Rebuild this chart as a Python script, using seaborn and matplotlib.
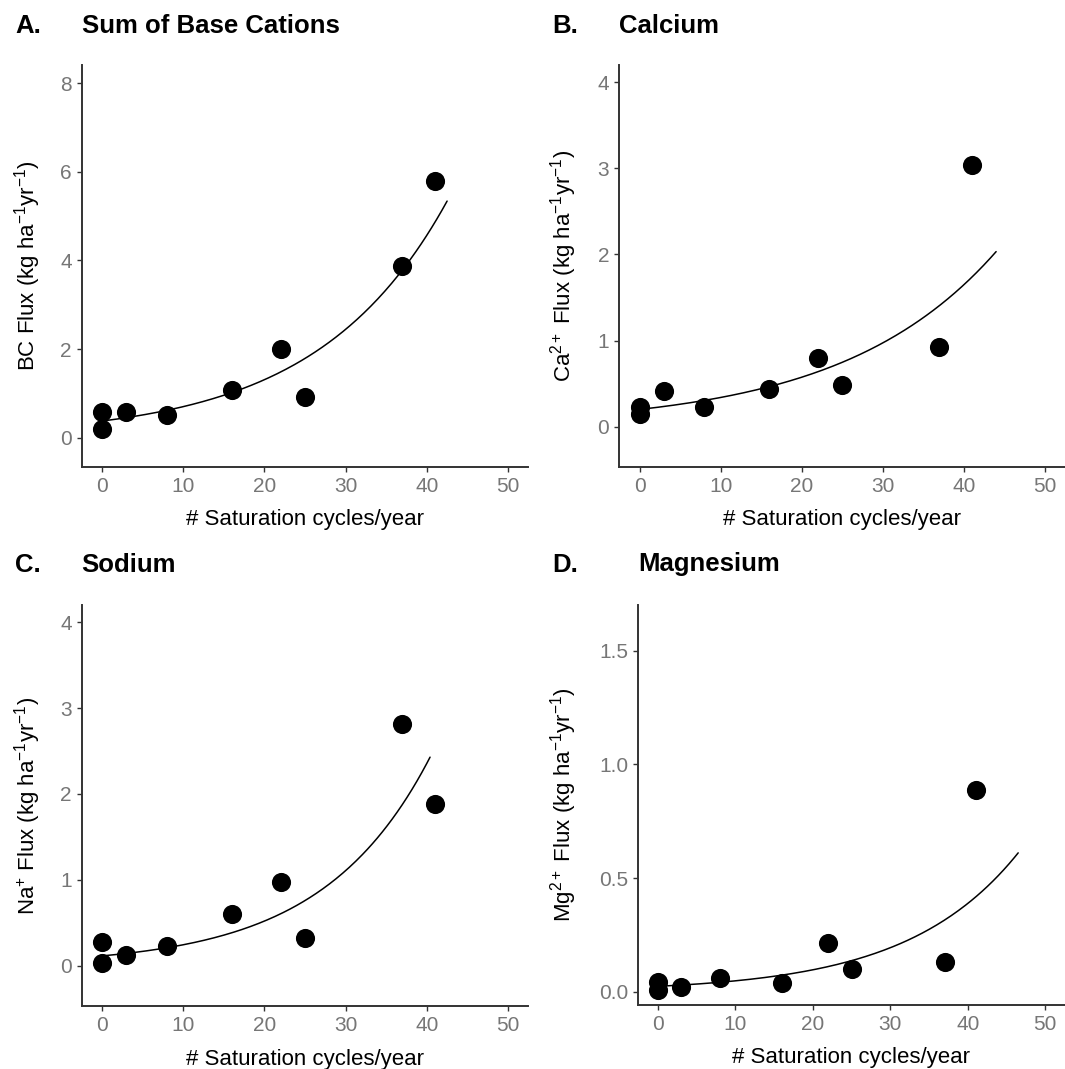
import numpy as np
import pandas as pd
import matplotlib
matplotlib.use("Agg")
import matplotlib.pyplot as plt
import seaborn as sns

# ---------------- data ----------------
cycles = [0, 0, 3, 8, 16, 22, 25, 37, 41]
bc_flux = [0.57, 0.195, 0.57, 0.52, 1.07, 2.01, 0.91, 3.88, 5.80]
ca_flux = [0.23, 0.15, 0.41, 0.23, 0.44, 0.80, 0.48, 0.93, 3.04]
na_flux = [0.28, 0.03, 0.13, 0.23, 0.60, 0.98, 0.32, 2.82, 1.88]
mg_flux = [0.042, 0.008, 0.02, 0.06, 0.04, 0.216, 0.10, 0.13, 0.886]

# exponential fit curves y = a * exp(b * x), drawn from x = 0 to x_end
fit_bc = dict(a=0.375, b=0.0625, x_end=42.5)
fit_ca = dict(a=0.200, b=0.0527, x_end=44.0)
fit_na = dict(a=0.115, b=0.0755, x_end=40.4)
fit_mg = dict(a=0.024, b=0.0696, x_end=46.5)

panel_letters = ["A.", "B.", "C.", "D."]
panel_titles = ["Sum of Base Cations", "Calcium", "Sodium", "Magnesium"]
y_labels = [
    "BC Flux (kg ha$^{-1}$yr$^{-1}$)",
    "Ca$^{2+}$ Flux (kg ha$^{-1}$yr$^{-1}$)",
    "Na$^{+}$ Flux (kg ha$^{-1}$yr$^{-1}$)",
    "Mg$^{2+}$ Flux (kg ha$^{-1}$yr$^{-1}$)",
]
x_label = "# Saturation cycles/year"
x_ticks = [0, 10, 20, 30, 40, 50]
y_ticks = [[0, 2, 4, 6, 8], [0, 1, 2, 3, 4], [0, 1, 2, 3, 4], [0.0, 0.5, 1.0, 1.5]]
y_ticklabels = [["0", "2", "4", "6", "8"], ["0", "1", "2", "3", "4"],
                ["0", "1", "2", "3", "4"], ["0.0", "0.5", "1.0", "1.5"]]

# ---------------- style ----------------
sns.set_style("white")
plt.rcParams["font.family"] = ["Liberation Sans", "DejaVu Sans"]
plt.rcParams["text.color"] = "black"
plt.rcParams["mathtext.fontset"] = "custom"
plt.rcParams["mathtext.rm"] = "Liberation Sans"
plt.rcParams["mathtext.it"] = "Liberation Sans:italic"
plt.rcParams["mathtext.bf"] = "Liberation Sans:bold"

W, H = 1065, 1069
fig = plt.figure(figsize=(W / 100, H / 100), dpi=100)
fig.patch.set_facecolor("white")

def rect(left, right, top, bottom):
    return [left / W, 1 - bottom / H, (right - left) / W, (bottom - top) / H]

# pixel geometry of each panel (left, right, top, bottom)
geoms = [
    (81.7, 528.3, 65, 466.7),
    (619.3, 1065.0, 65, 466.7),
    (81.7, 528.3, 605, 1006),
    (638.3, 1064.7, 605, 1005),
]
ylims = [(-0.655, 8.413), (-0.465, 4.20), (-0.468, 4.20), (-0.058, 1.70)]
ylabel_centers = [28, 564, 28, 564]
title_baselines = [33, 33, 571.5, 571.5]

series = [bc_flux, ca_flux, na_flux, mg_flux]
fits = [fit_bc, fit_ca, fit_na, fit_mg]

axis_col = "#333333"
tick_col = "#767676"

for i in range(4):
    left, right, top, bottom = geoms[i]
    ax = fig.add_axes(rect(left, right, top, bottom))
    df = pd.DataFrame({"cycles": cycles, "flux": series[i]})
    f = fits[i]
    xs = np.linspace(0, f["x_end"], 200)
    curve = pd.DataFrame({"cycles": xs, "flux": f["a"] * np.exp(f["b"] * xs)})

    sns.scatterplot(data=df, x="cycles", y="flux", ax=ax, s=190, color="black",
                    linewidth=0, zorder=3, clip_on=False)
    sns.lineplot(data=curve, x="cycles", y="flux", ax=ax, color="black",
                 linewidth=1.1, zorder=4)

    ax.set_xlim(-2.5, 52.5)
    ax.set_ylim(*ylims[i])
    ax.set_xticks(x_ticks)
    ax.set_xticklabels([str(t) for t in x_ticks])
    ax.set_yticks(y_ticks[i])
    ax.set_yticklabels(y_ticklabels[i])
    ax.grid(False)
    sns.despine(ax=ax)
    for sp in ["left", "bottom"]:
        ax.spines[sp].set_color(axis_col)
        ax.spines[sp].set_linewidth(1.4)
    ax.tick_params(axis="both", which="major", length=3.6, width=1.0,
                   color=axis_col, labelcolor=tick_col, labelsize=15, pad=3.6,
                   bottom=True, left=True)

    w_px = right - left
    h_px = bottom - top
    ax.set_xlabel(x_label, fontsize=16, color="black")
    ax.xaxis.label.set_verticalalignment("center")
    ax.xaxis.set_label_coords(0.5, -53 / h_px)
    ax.set_ylabel(y_labels[i], fontsize=16, color="black")
    ax.yaxis.label.set_verticalalignment("center")
    ax.yaxis.set_label_coords((ylabel_centers[i] - left) / w_px, 0.5)

    lx = 15 if i in (0, 2) else 552
    fig.text(lx / W, 1 - title_baselines[i] / H, panel_letters[i], color="black",
             fontsize=18.5, fontweight="bold", va="baseline", ha="left")
    fig.text(left / W, 1 - title_baselines[i] / H, panel_titles[i], color="black",
             fontsize=18.5, fontweight="bold", va="baseline", ha="left")

fig.savefig("out.png", dpi=100, facecolor="white")
